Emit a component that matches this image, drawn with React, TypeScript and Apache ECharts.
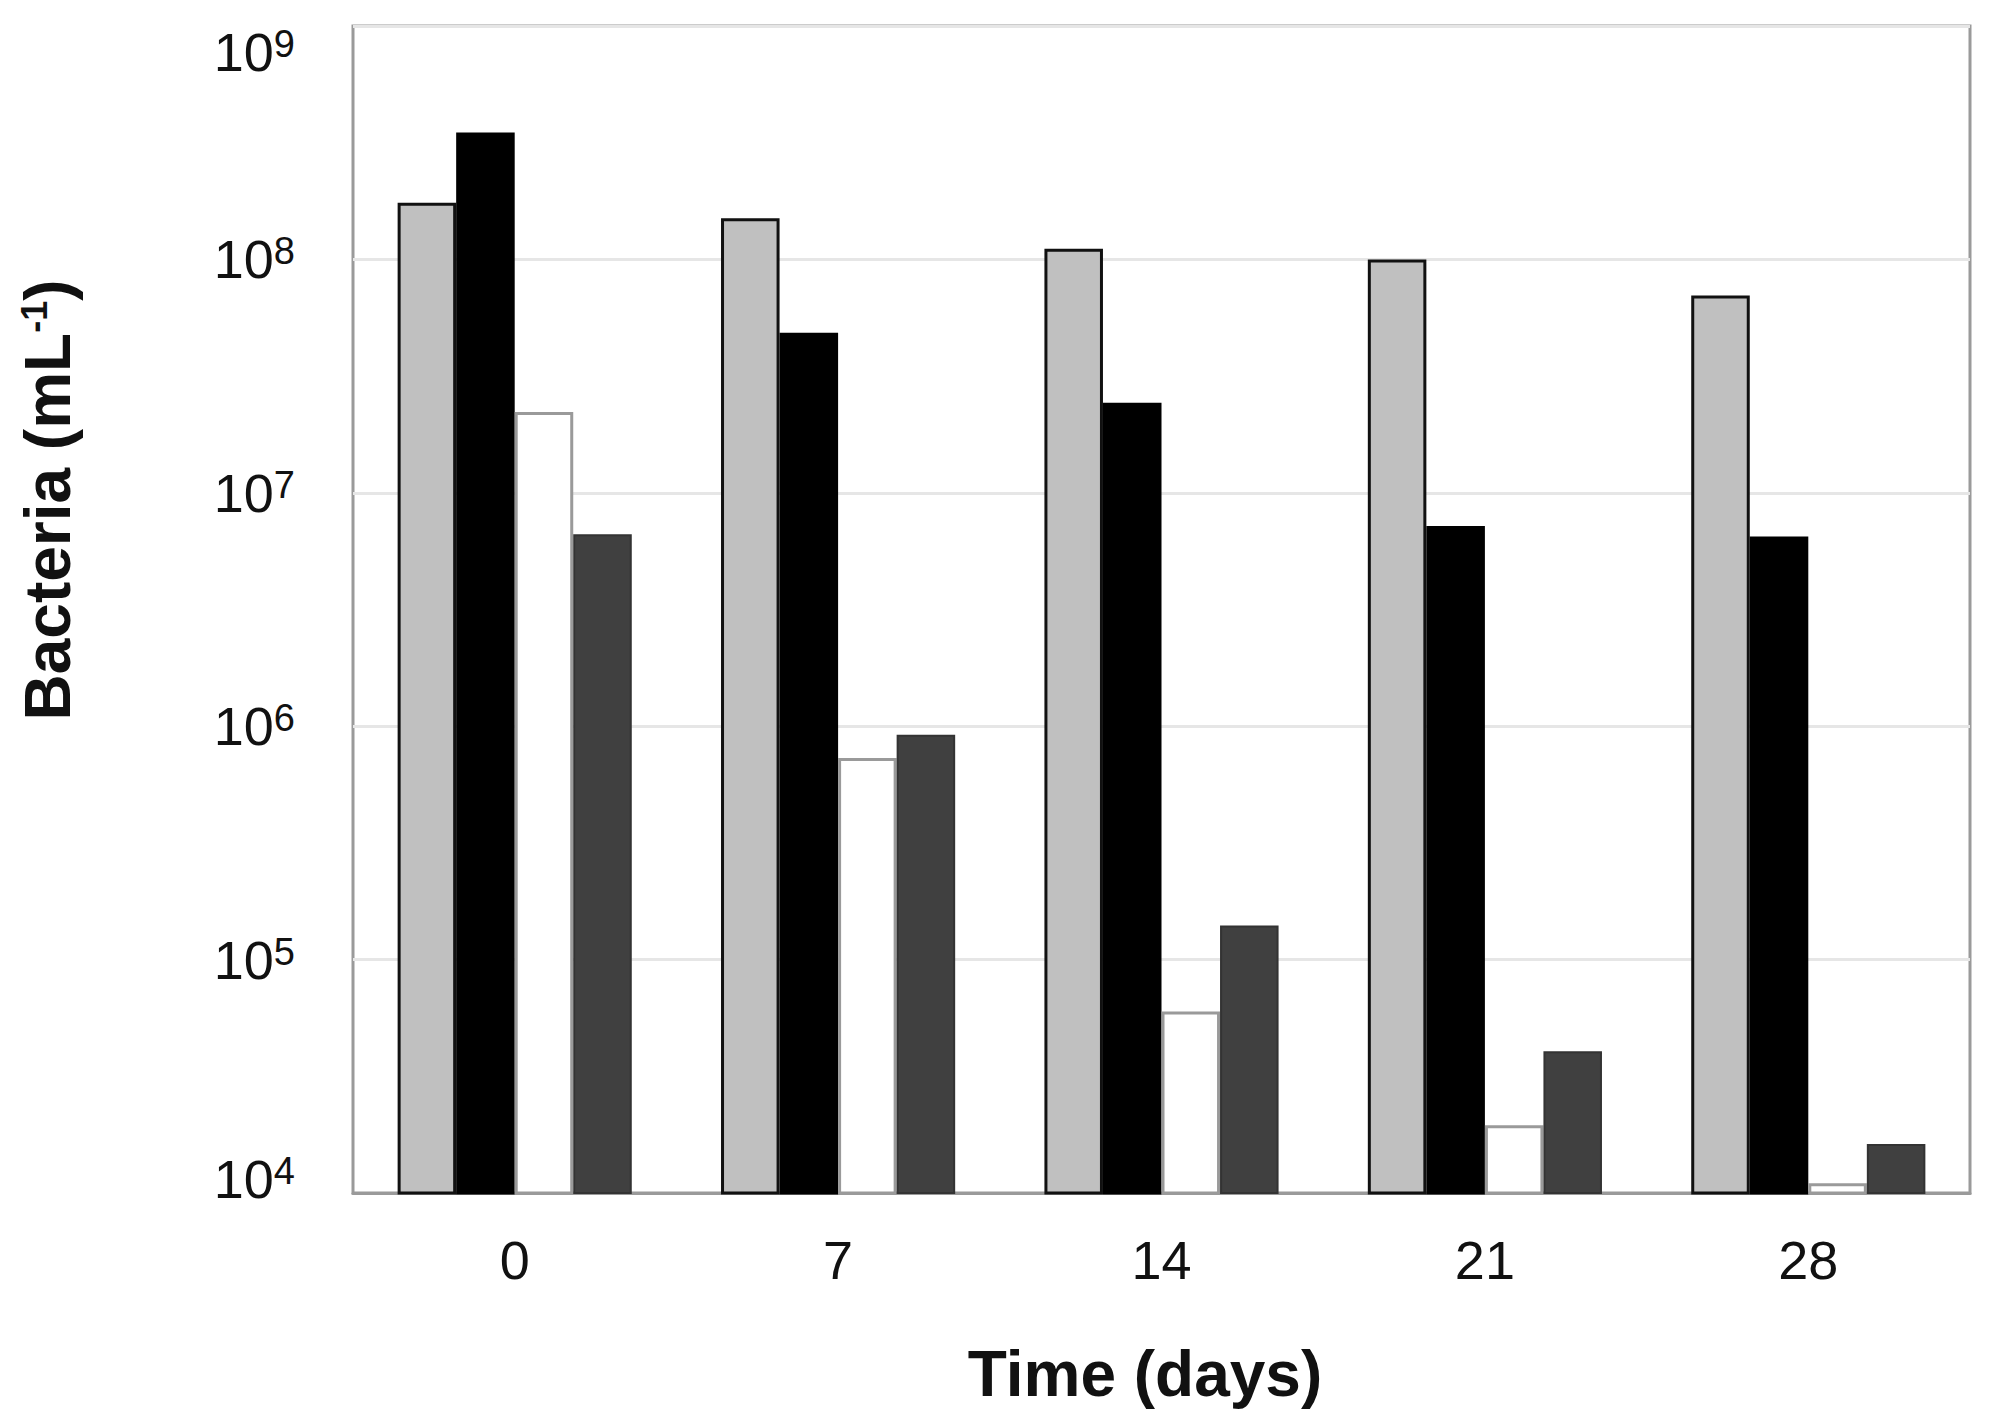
import React, { useEffect, useRef } from "react";
import * as echarts from "echarts";

const categories = ["0", "7", "14", "21", "28"];
const seriesGray = [1.75e8, 1.5e8, 1.11e8, 1.0e8, 7.0e7];
const seriesBlack = [3.5e8, 4.85e7, 2.43e7, 7.2e6, 6.5e6];
const seriesWhite = [2.22e7, 7.3e5, 6.0e4, 1.95e4, 1.1e4];
const seriesDark = [6.65e6, 9.2e5, 1.4e5, 4.05e4, 1.62e4];
const yMin = 1e4;
const yMax = 1e9;
const xTitle = "Time (days)";
const yTitleMain = "Bacteria (mL";
const yTitleSup = "-1";

const FONT = "'Liberation Sans', Arial, Helvetica, sans-serif";

export default function App() {
  const ref = useRef<HTMLDivElement>(null);
  useEffect(() => {
    document.body.style.margin = "0";
    const chart = echarts.init(ref.current as HTMLDivElement, null, { renderer: "svg" });
    const barBase = { type: "bar", barGap: "0%", barCategoryGap: "27.6%", clip: true };
    const base = { fontSize: 54, color: "#111", fontFamily: FONT };
    const sup = { fontSize: 38, color: "#111", fontFamily: FONT, verticalAlign: "top", lineHeight: 36 };
    chart.setOption({
      animation: false,
      backgroundColor: "#fff",
      grid: {
        left: 353,
        right: 26,
        top: 26,
        bottom: 235,
        containLabel: false,
        outerBoundsMode: "none",
        show: true,
        borderColor: "#9a9a9a",
        borderWidth: 3,
        backgroundColor: "transparent",
      },
      xAxis: {
        type: "category",
        data: categories,
        axisTick: { show: false },
        axisLine: { show: true, lineStyle: { color: "#9a9a9a", width: 3 } },
        axisLabel: { fontSize: 54, color: "#111", margin: 40, fontFamily: FONT },
      },
      yAxis: {
        type: "log",
        logBase: 10,
        min: yMin,
        max: yMax,
        axisLine: { show: false },
        axisTick: { show: false },
        splitLine: { show: true, lineStyle: { color: "#e6e6e6", width: 3 } },
        axisLabel: {
          margin: 58,
          formatter: (v: number) => {
            const e = Math.round(Math.log10(v));
            if (e === 9) return `{bt|10}{st|${e}}`;
            if (e === 4) return `{bb|10}{sb|${e}}`;
            return `{b|10}{s|${e}}`;
          },
          rich: {
            b: base,
            s: sup,
            bt: { ...base, padding: [52, 0, 0, 0] },
            st: { ...sup, padding: [52, 0, 0, 0] },
            bb: { ...base, padding: [0, 0, 28, 0] },
            sb: sup,
          },
        },
      },
      series: [
        { ...barBase, name: "A", data: seriesGray, itemStyle: { color: "#c0c0c0", borderColor: "#111", borderWidth: 3 } },
        { ...barBase, name: "B", data: seriesBlack, itemStyle: { color: "#000", borderColor: "#000", borderWidth: 3 } },
        { ...barBase, name: "C", data: seriesWhite, itemStyle: { color: "#fff", borderColor: "#9a9a9a", borderWidth: 3 } },
        { ...barBase, name: "D", data: seriesDark, itemStyle: { color: "#404040", borderColor: "#333", borderWidth: 2 } },
      ],
      graphic: [
        {
          type: "text",
          x: 48,
          y: 500,
          rotation: Math.PI / 2,
          style: {
            text: `{b|${yTitleMain}}{s|${yTitleSup}}{b|)}`,
            align: "center",
            verticalAlign: "middle",
            rich: {
              b: { fontSize: 64, fontWeight: "bold", fill: "#111", fontFamily: FONT },
              s: { fontSize: 36, fontWeight: "bold", fill: "#111", fontFamily: FONT, verticalAlign: "top", lineHeight: 40 },
            },
          },
        },
        {
          type: "text",
          x: 1145,
          y: 1374,
          style: {
            text: xTitle,
            fontSize: 64,
            fontWeight: "bold",
            fill: "#111",
            fontFamily: FONT,
            align: "center",
            verticalAlign: "middle",
          },
        },
      ],
    });
    return () => chart.dispose();
  }, []);
  return <div ref={ref} style={{ width: 1996, height: 1428 }} />;
}
